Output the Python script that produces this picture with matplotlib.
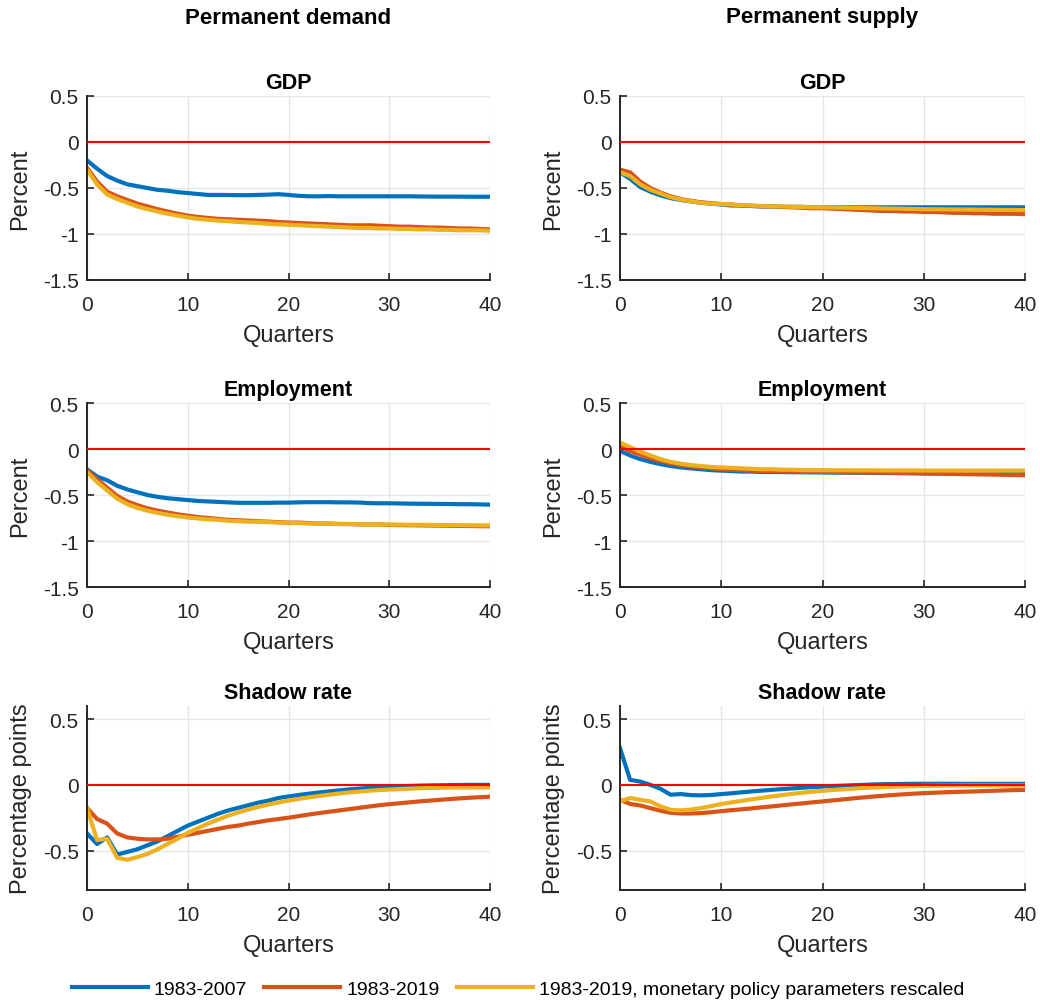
import matplotlib

matplotlib.use('Agg')
import matplotlib.pyplot as plt
import numpy as np

plt.rcParams['font.family'] = ['Liberation Sans', 'DejaVu Sans']

quarters = np.arange(0, 41)

# impulse responses, permanent demand shock
gdp_d_0719 = [-0.20, -0.29, -0.37, -0.42, -0.46, -0.48, -0.50, -0.52, -0.53, -0.545, -0.555,
              -0.565, -0.575, -0.575, -0.576, -0.578, -0.578, -0.575, -0.572, -0.567, -0.575,
              -0.585, -0.59, -0.59, -0.588, -0.59, -0.59, -0.59, -0.59, -0.59, -0.59,
              -0.59, -0.59, -0.592, -0.593, -0.594, -0.594, -0.594, -0.595, -0.595, -0.595]
gdp_d_1919 = [-0.28, -0.43, -0.54, -0.59, -0.63, -0.67, -0.70, -0.73, -0.755, -0.78, -0.80,
              -0.815, -0.825, -0.835, -0.84, -0.845, -0.85, -0.855, -0.86, -0.87, -0.875,
              -0.88, -0.885, -0.89, -0.895, -0.90, -0.905, -0.905, -0.905, -0.91, -0.915,
              -0.92, -0.92, -0.925, -0.93, -0.93, -0.935, -0.94, -0.94, -0.945, -0.95]
gdp_d_resc = [-0.30, -0.46, -0.57, -0.62, -0.66, -0.70, -0.73, -0.755, -0.78, -0.80, -0.82,
              -0.835, -0.845, -0.855, -0.86, -0.87, -0.875, -0.88, -0.89, -0.895, -0.90,
              -0.905, -0.91, -0.915, -0.92, -0.925, -0.93, -0.935, -0.935, -0.94, -0.94,
              -0.945, -0.945, -0.95, -0.95, -0.955, -0.955, -0.96, -0.96, -0.96, -0.965]

emp_d_0719 = [-0.22, -0.30, -0.34, -0.40, -0.44, -0.47, -0.50, -0.52, -0.535, -0.545, -0.555,
              -0.565, -0.57, -0.575, -0.58, -0.585, -0.585, -0.585, -0.585, -0.583, -0.583,
              -0.58, -0.578, -0.578, -0.578, -0.58, -0.58, -0.582, -0.588, -0.59, -0.59,
              -0.592, -0.594, -0.595, -0.596, -0.597, -0.598, -0.6, -0.6, -0.602, -0.605]
emp_d_1919 = [-0.23, -0.33, -0.42, -0.51, -0.57, -0.61, -0.645, -0.67, -0.69, -0.71, -0.725,
              -0.74, -0.75, -0.76, -0.77, -0.775, -0.78, -0.785, -0.79, -0.795, -0.80,
              -0.80, -0.805, -0.81, -0.81, -0.815, -0.815, -0.82, -0.82, -0.82, -0.825,
              -0.827, -0.829, -0.83, -0.832, -0.833, -0.835, -0.836, -0.837, -0.839, -0.84]
emp_d_resc = [-0.25, -0.36, -0.45, -0.54, -0.60, -0.64, -0.67, -0.695, -0.715, -0.73, -0.745,
              -0.755, -0.765, -0.77, -0.78, -0.785, -0.79, -0.79, -0.795, -0.80, -0.80,
              -0.805, -0.81, -0.81, -0.815, -0.815, -0.817, -0.818, -0.819, -0.82, -0.821,
              -0.822, -0.823, -0.824, -0.825, -0.826, -0.827, -0.828, -0.829, -0.83, -0.83]

sr_d_0719 = [-0.37, -0.45, -0.40, -0.53, -0.51, -0.49, -0.46, -0.43, -0.39, -0.35, -0.31,
             -0.28, -0.25, -0.22, -0.195, -0.175, -0.155, -0.135, -0.12, -0.10, -0.088,
             -0.077, -0.067, -0.058, -0.05, -0.042, -0.035, -0.029, -0.023, -0.018, -0.014,
             -0.011, -0.008, -0.006, -0.004, -0.003, -0.002, -0.001, 0.0, 0.0, 0.0]
sr_d_1919 = [-0.175, -0.26, -0.295, -0.37, -0.40, -0.41, -0.415, -0.415, -0.41, -0.395, -0.38,
             -0.365, -0.35, -0.335, -0.32, -0.31, -0.295, -0.283, -0.27, -0.26, -0.25,
             -0.238, -0.226, -0.215, -0.205, -0.195, -0.185, -0.175, -0.165, -0.155, -0.147,
             -0.14, -0.133, -0.126, -0.12, -0.114, -0.108, -0.103, -0.098, -0.094, -0.09]
sr_d_resc = [-0.175, -0.42, -0.41, -0.555, -0.57, -0.55, -0.525, -0.49, -0.45, -0.41, -0.365,
             -0.33, -0.295, -0.265, -0.235, -0.21, -0.188, -0.168, -0.15, -0.134, -0.12,
             -0.107, -0.095, -0.085, -0.075, -0.066, -0.058, -0.051, -0.045, -0.04, -0.036,
             -0.032, -0.029, -0.026, -0.024, -0.022, -0.021, -0.02, -0.02, -0.019, -0.019]

# impulse responses, permanent supply shock
gdp_s_0719 = [-0.33, -0.40, -0.49, -0.54, -0.58, -0.61, -0.63, -0.645, -0.66, -0.67, -0.68,
              -0.69, -0.69, -0.695, -0.70, -0.70, -0.705, -0.705, -0.705, -0.71, -0.71,
              -0.71, -0.71, -0.71, -0.71, -0.71, -0.71, -0.71, -0.71, -0.71, -0.71,
              -0.71, -0.71, -0.71, -0.71, -0.71, -0.71, -0.71, -0.71, -0.71, -0.71]
gdp_s_1919 = [-0.30, -0.33, -0.43, -0.50, -0.55, -0.59, -0.62, -0.64, -0.655, -0.665, -0.675,
              -0.68, -0.69, -0.695, -0.70, -0.70, -0.705, -0.71, -0.715, -0.72, -0.72,
              -0.725, -0.73, -0.735, -0.74, -0.745, -0.75, -0.75, -0.755, -0.755, -0.76,
              -0.76, -0.765, -0.77, -0.77, -0.775, -0.775, -0.78, -0.78, -0.78, -0.785]
gdp_s_resc = [-0.33, -0.37, -0.46, -0.52, -0.56, -0.60, -0.625, -0.645, -0.66, -0.67, -0.675,
              -0.68, -0.685, -0.69, -0.695, -0.70, -0.70, -0.705, -0.705, -0.71, -0.71,
              -0.712, -0.714, -0.716, -0.718, -0.72, -0.722, -0.724, -0.726, -0.728, -0.73,
              -0.731, -0.732, -0.733, -0.734, -0.735, -0.736, -0.737, -0.738, -0.739, -0.74]

emp_s_0719 = [-0.02, -0.07, -0.11, -0.14, -0.165, -0.185, -0.20, -0.21, -0.22, -0.23, -0.235,
              -0.24, -0.245, -0.245, -0.25, -0.25, -0.251, -0.252, -0.253, -0.254, -0.255,
              -0.256, -0.257, -0.258, -0.259, -0.26, -0.261, -0.262, -0.263, -0.264, -0.265,
              -0.266, -0.266, -0.267, -0.267, -0.268, -0.268, -0.269, -0.269, -0.27, -0.27]
emp_s_1919 = [0.03, -0.02, -0.06, -0.10, -0.13, -0.155, -0.175, -0.19, -0.20, -0.21, -0.22,
              -0.225, -0.23, -0.235, -0.24, -0.24, -0.245, -0.245, -0.25, -0.25, -0.25,
              -0.251, -0.252, -0.253, -0.254, -0.255, -0.257, -0.259, -0.261, -0.263, -0.265,
              -0.267, -0.269, -0.271, -0.273, -0.275, -0.277, -0.279, -0.281, -0.283, -0.285]
emp_s_resc = [0.07, 0.02, -0.03, -0.07, -0.11, -0.14, -0.16, -0.175, -0.185, -0.195, -0.20,
              -0.205, -0.21, -0.215, -0.22, -0.22, -0.225, -0.225, -0.23, -0.23, -0.23,
              -0.231, -0.231, -0.232, -0.232, -0.232, -0.233, -0.233, -0.233, -0.233, -0.234,
              -0.234, -0.234, -0.234, -0.235, -0.235, -0.235, -0.235, -0.235, -0.235, -0.235]

sr_s_0719 = [0.28, 0.038, 0.025, 0.0, -0.03, -0.075, -0.07, -0.078, -0.08, -0.077, -0.07,
             -0.064, -0.057, -0.05, -0.044, -0.038, -0.032, -0.027, -0.022, -0.017, -0.013,
             -0.009, -0.006, -0.003, 0.0, 0.003, 0.005, 0.006, 0.007, 0.008, 0.008,
             0.008, 0.008, 0.008, 0.008, 0.008, 0.008, 0.008, 0.008, 0.008, 0.008]
sr_s_1919 = [-0.115, -0.145, -0.157, -0.177, -0.197, -0.212, -0.218, -0.218, -0.215, -0.208, -0.2,
             -0.193, -0.186, -0.179, -0.171, -0.164, -0.156, -0.148, -0.141, -0.133, -0.126,
             -0.118, -0.111, -0.103, -0.096, -0.089, -0.083, -0.077, -0.072, -0.067, -0.063,
             -0.06, -0.057, -0.054, -0.052, -0.05, -0.047, -0.045, -0.042, -0.04, -0.038]
sr_s_resc = [-0.126, -0.10, -0.114, -0.126, -0.164, -0.19, -0.194, -0.188, -0.177, -0.162, -0.146,
             -0.134, -0.122, -0.11, -0.099, -0.088, -0.078, -0.068, -0.06, -0.052, -0.045,
             -0.039, -0.034, -0.029, -0.024, -0.02, -0.017, -0.014, -0.012, -0.01, -0.008,
             -0.007, -0.006, -0.006, -0.005, -0.005, -0.005, -0.005, -0.005, -0.005, -0.005]

series_names = ['1983-2007', '1983-2019', '1983-2019, monetary policy parameters rescaled']
colors = [(0, 0.447, 0.741), (0.85, 0.325, 0.098), (0.929, 0.694, 0.125)]

col_titles = ['Permanent demand', 'Permanent supply']
row_titles = ['GDP', 'Employment', 'Shadow rate']
row_ylabels = ['Percent', 'Percent', 'Percentage points']
panels = [
    [[gdp_d_0719, gdp_d_1919, gdp_d_resc], [gdp_s_0719, gdp_s_1919, gdp_s_resc]],
    [[emp_d_0719, emp_d_1919, emp_d_resc], [emp_s_0719, emp_s_1919, emp_s_resc]],
    [[sr_d_0719, sr_d_1919, sr_d_resc], [sr_s_0719, sr_s_1919, sr_s_resc]],
]
ylims = [(-1.5, 0.5), (-1.5, 0.5), (-0.8, 0.6)]
yticks = [[-1.5, -1, -0.5, 0, 0.5], [-1.5, -1, -0.5, 0, 0.5], [-0.5, 0, 0.5]]

W, H = 1040, 1003
fig = plt.figure(figsize=(W / 100, H / 100), dpi=100)

col_x = [87, 620]
col_w = [403, 405]
row_top = [97, 404, 707]
ax_h = 184
ink = '#262626'

lines = []
for r in range(3):
    for c in range(2):
        ax = fig.add_axes([col_x[c] / W, 1 - (row_top[r] + ax_h) / H, col_w[c] / W, ax_h / H])
        for k in range(3):
            ln, = ax.plot(quarters, panels[r][c][k], color=colors[k], lw=3.0)
            if r == 0 and c == 0:
                lines.append(ln)
        ax.axhline(0, color='red', lw=1.5, zorder=5)
        ax.set_xlim(0, 40)
        ax.set_ylim(*ylims[r])
        ax.set_xticks([0, 10, 20, 30, 40])
        ax.set_yticks(yticks[r])
        ax.set_yticklabels(['{:g}'.format(v) for v in yticks[r]])
        ax.grid(True, color='#e6e6e6', lw=1.0)
        ax.set_axisbelow(True)
        for s in ['top', 'right']:
            ax.spines[s].set_visible(False)
        for s in ['left', 'bottom']:
            ax.spines[s].set_color(ink)
            ax.spines[s].set_linewidth(1.4)
        ax.tick_params(direction='in', length=5, width=1.2, color=ink,
                       labelsize=15, labelcolor=ink)
        ax.tick_params(axis='x', pad=11)
        ax.tick_params(axis='y', pad=6)
        ax.set_title(row_titles[r], fontsize=15.5, fontweight='bold', pad=6)
        ax.set_xlabel('Quarters', fontsize=17, color=ink, labelpad=7)
        ax.set_ylabel(row_ylabels[r], fontsize=17, color=ink, labelpad=8)

for c in range(2):
    fig.text((col_x[c] + col_w[c] / 2) / W, 1 - 18 / H, col_titles[c], ha='center', va='center',
             fontsize=16, fontweight='bold')

fig.legend(lines, series_names, loc='center', bbox_to_anchor=(0.498, 1 - 990 / H), ncol=3,
           frameon=False, fontsize=14, handlelength=3.9, handletextpad=0.3, columnspacing=0.9)

plt.savefig('out.png', dpi=100)
